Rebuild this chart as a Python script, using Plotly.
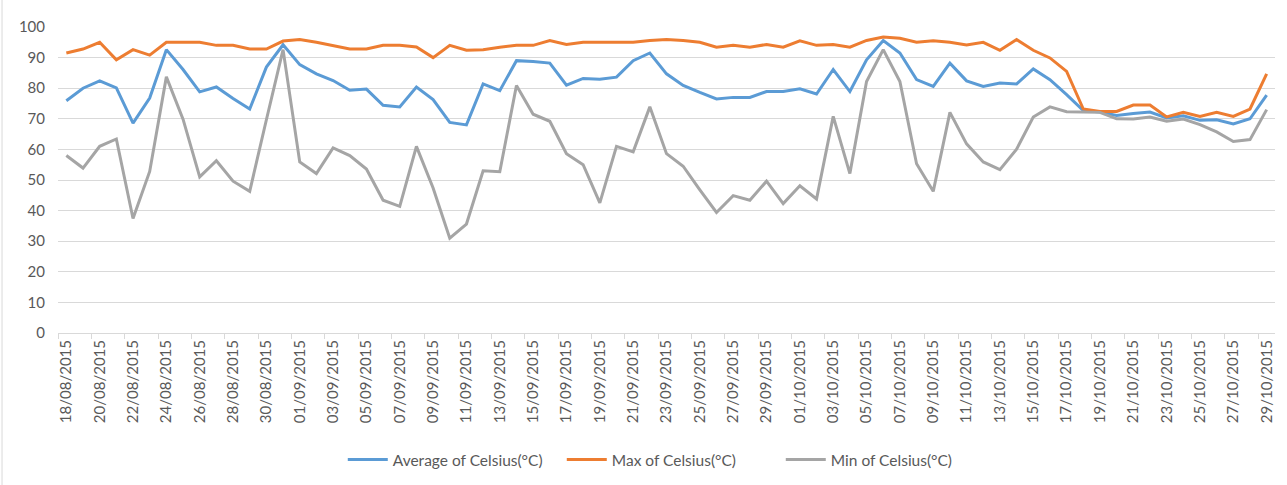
import pandas as pd
import plotly.graph_objects as go

dates = [d.strftime("%d/%m/%Y") for d in pd.date_range("2015-08-18", "2015-10-29", freq="D")]

avg_c = [75.9, 80.0, 82.4, 80.1, 68.6, 76.8, 92.6, 86.1, 78.8, 80.4, 76.6, 73.2, 86.9, 94.2, 87.7, 84.7,
         82.5, 79.3, 79.7, 74.4, 73.9, 80.4, 76.3, 68.8, 68.0, 81.4, 79.2, 89.0, 88.7, 88.2, 81.0, 83.2,
         82.9, 83.6, 89.0, 91.5, 84.7, 80.9, 78.6, 76.5, 77.0, 77.0, 78.9, 78.9, 79.8, 78.1, 86.1, 78.9,
         89.3, 95.6, 91.5, 82.8, 80.6, 88.2, 82.4, 80.6, 81.7, 81.4, 86.3, 82.8, 77.9, 72.7, 72.2, 71.1,
         71.7, 72.2, 70.3, 71.0, 69.5, 69.7, 68.3, 70.0, 77.7]
max_c = [91.5, 92.8, 95.0, 89.3, 92.6, 90.8, 95.0, 95.0, 95.0, 94.0, 94.0, 92.8, 92.8, 95.4, 95.9, 95.0,
         94.0, 92.8, 92.8, 94.0, 94.0, 93.5, 90.0, 94.0, 92.4, 92.6, 93.4, 94.0, 94.0, 95.6, 94.3, 95.0,
         95.0, 95.0, 95.0, 95.6, 95.9, 95.6, 95.0, 93.4, 94.0, 93.4, 94.3, 93.4, 95.5, 94.0, 94.3, 93.4,
         95.6, 96.7, 96.3, 95.0, 95.5, 95.0, 94.1, 95.0, 92.4, 95.9, 92.4, 89.9, 85.5, 73.2, 72.4, 72.4,
         74.5, 74.5, 70.6, 72.1, 70.8, 72.1, 70.8, 73.2, 84.7]
min_c = [58.0, 53.9, 61.0, 63.4, 37.4, 52.8, 83.7, 69.9, 51.0, 56.3, 49.6, 46.3, 69.7, 92.6, 55.9, 52.1,
         60.5, 58.0, 53.6, 43.4, 41.4, 61.0, 47.4, 31.0, 35.6, 53.0, 52.7, 80.9, 71.5, 69.2, 58.6, 55.0,
         42.5, 61.0, 59.2, 73.9, 58.6, 54.5, 46.8, 39.4, 44.9, 43.4, 49.6, 42.3, 48.1, 43.8, 70.8, 52.1,
         82.2, 92.6, 82.2, 55.3, 46.3, 72.1, 61.8, 55.9, 53.4, 60.1, 70.6, 73.9, 72.3, 72.1, 72.1, 70.0,
         69.9, 70.6, 69.2, 69.9, 68.1, 65.7, 62.6, 63.2, 73.0]

series_names = ["Average of Celsius(°C)", "Max of Celsius(°C)", "Min of Celsius(°C)"]
colors = ["#5B9BD5", "#ED7D31", "#A5A5A5"]

fig = go.Figure()
for name, vals, col in zip(series_names, [avg_c, max_c, min_c], colors):
    fig.add_trace(go.Scatter(x=dates, y=vals, mode="lines", name=name,
                             line=dict(color=col, width=3)))

FONT = "Lato"
fig.update_layout(
    width=1287, height=485,
    margin=dict(l=58, r=12, t=27, b=152, autoexpand=False),
    paper_bgcolor="white", plot_bgcolor="white",
    font=dict(family=FONT, color="#595959", size=15),
    showlegend=True,
    legend=dict(orientation="h", x=0.234, xanchor="left", y=-0.415, yanchor="middle",
                font=dict(size=15.5, color="#595959"), itemwidth=40,
                entrywidth=164, entrywidthmode="pixels"),
    xaxis=dict(type="category", range=[-0.5, len(dates) - 0.5], dtick=2, tickangle=-90,
               tickson="boundaries", ticks="outside", ticklen=5, tickcolor="#D9D9D9",
               showline=True, linecolor="#D9D9D9", linewidth=1, showgrid=False,
               automargin=False, tickfont=dict(size=15, color="#595959")),
    yaxis=dict(range=[0, 100], dtick=10, showgrid=True, gridcolor="#D9D9D9", gridwidth=1,
               zeroline=False, showline=False, ticks="", ticklabelstandoff=12,
               automargin=False, tickfont=dict(size=15, color="#595959")),
    shapes=[dict(type="line", xref="paper", yref="paper", x0=-0.046, x1=-0.046,
                 y0=-0.5, y1=1.1, line=dict(color="#D9D9D9", width=1))],
)

fig.write_html("out.html", config={"displayModeBar": False},
               post_script="document.body.style.margin='0px';")
